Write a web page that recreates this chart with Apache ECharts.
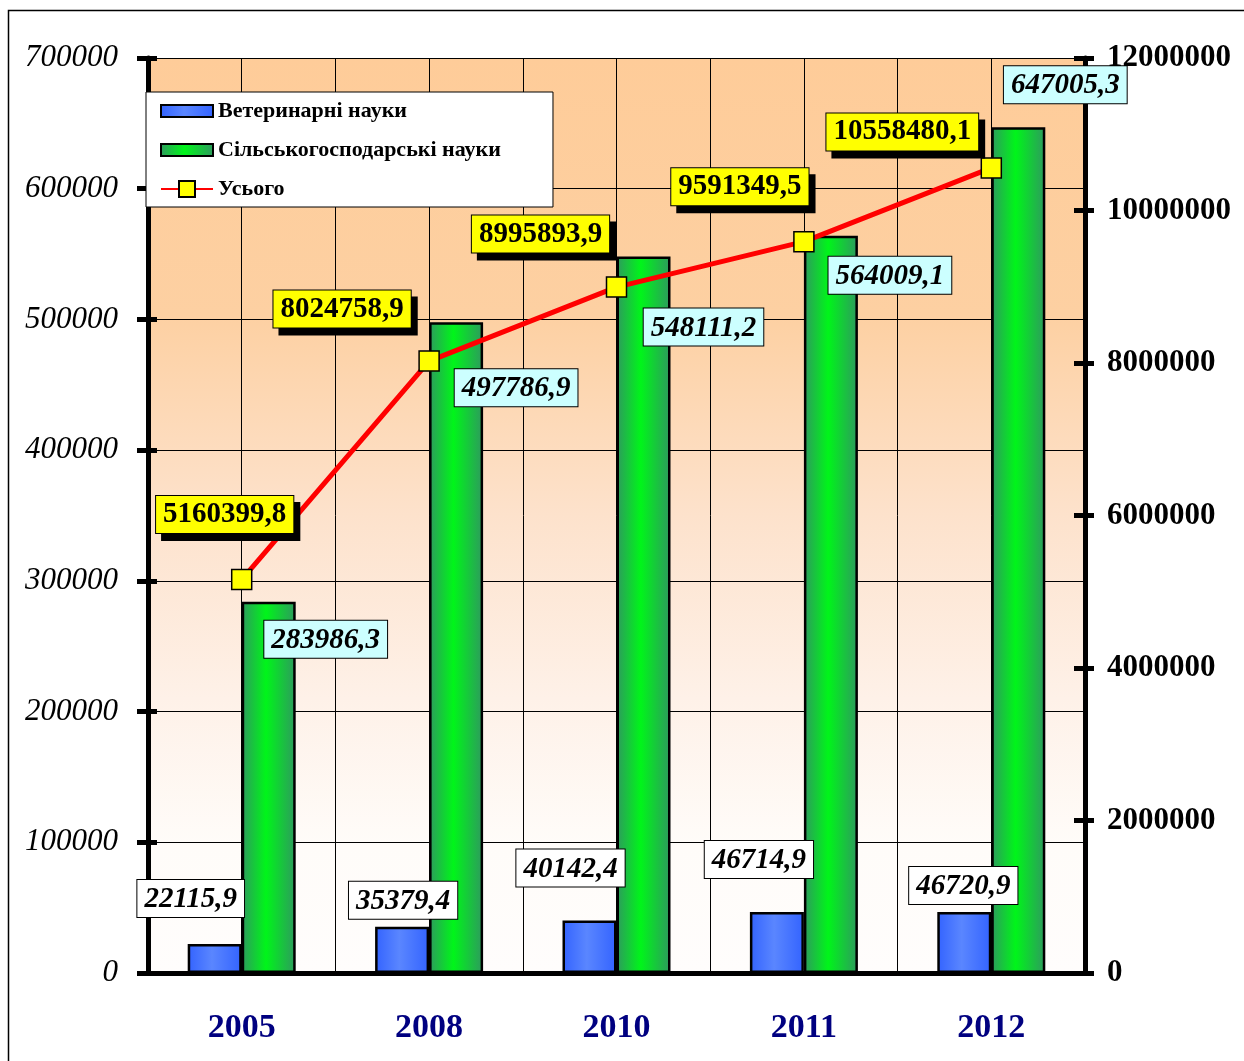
<!DOCTYPE html>
<html>
<head>
<meta charset="utf-8">
<script src="https://cdn.jsdelivr.net/npm/echarts@6/dist/echarts.min.js"></script>
<style>
  html, body { margin: 0; padding: 0; background: #fff; }
  #chart { width: 1244px; height: 1061px; }
</style>
</head>
<body>
<div id="chart"></div>
<script>
  // data
  const years = ['2005', '2008', '2010', '2011', '2012'];
  const vetValues = [22115.9, 35379.4, 40142.4, 46714.9, 46720.9];
  const agroValues = [283986.3, 497786.9, 548111.2, 564009.1, 647005.3];
  const totalValues = [5160399.8, 8024758.9, 8995893.9, 9591349.5, 10558480.1];
  const seriesNames = ['Ветеринарні науки', 'Сільськогосподарські науки', 'Усього'];

  // where each value label sits, relative to its mark
  const vetLabelShift = [[-24, -27], [1, -8], [-19, -34], [-18, -34], [-1, -8]];
  const agroLabelShift = [[57, 56], [60, 84], [60, 89], [59, 58], [47, -24]];
  const totalLabelShift = [[-17, -65], [-87, -52], [-76, -53], [-64, -55], [-89, -36]];

  const serif = '"Liberation Serif", "Times New Roman", serif';
  const fmt = v => v.toFixed(1).replace('.', ',');

  const chart = echarts.init(document.getElementById('chart'));

  const hGrad = (edge, mid, pos) => new echarts.graphic.LinearGradient(0, 0, 1, 0, [
    { offset: 0, color: edge },
    { offset: pos, color: mid },
    { offset: 1, color: edge }
  ]);

  const boxLabel = (bg, italic) => ({
    show: true,
    fontFamily: serif,
    fontSize: 29,
    fontWeight: 'bold',
    fontStyle: italic ? 'italic' : 'normal',
    color: '#000',
    backgroundColor: bg,
    borderColor: '#000',
    borderWidth: 1,
    padding: [5, 7, 3, 7],
    formatter: p => fmt(p.value)
  });

  const withShift = (values, shifts) => values.map((v, i) => ({ value: v, label: { offset: shifts[i] } }));

  const barIcon = 'path://M0,0L52,0L52,12L0,12Z';

  chart.setOption({
    animation: false,
    graphic: [{
      type: 'rect',
      shape: { x: 8.5, y: 10.5, width: 1250, height: 1070 },
      style: { fill: 'none', stroke: '#000', lineWidth: 1.5 },
      silent: true,
      z: -10
    }],
    grid: {
      left: 148, right: 159, top: 58, bottom: 88,
      show: true,
      borderWidth: 0,
      backgroundColor: new echarts.graphic.LinearGradient(0, 0, 0, 1, [
        { offset: 0, color: '#FECC99' },
        { offset: 0.28, color: '#FDD0A2' },
        { offset: 0.5, color: '#FDE2CC' },
        { offset: 0.7, color: '#FEF1E8' },
        { offset: 0.86, color: '#FFFCF9' },
        { offset: 1, color: '#FFFDFC' }
      ])
    },
    legend: {
      orient: 'vertical',
      left: 146,
      top: 92,
      backgroundColor: '#fff',
      borderColor: '#000',
      borderWidth: 1,
      padding: [8, 52, 7, 14],
      itemGap: 17,
      itemWidth: 52,
      itemHeight: 20,
      symbolKeepAspect: true,
      textStyle: { fontFamily: serif, fontSize: 22, fontWeight: 'bold', color: '#000' },
      data: [
        { name: seriesNames[0], icon: barIcon },
        { name: seriesNames[1], icon: barIcon },
        { name: seriesNames[2] }
      ]
    },
    xAxis: [
      {
        type: 'category',
        data: years,
        axisLine: { lineStyle: { color: '#000', width: 5 } },
        axisTick: { length: 10, lineStyle: { color: '#000', width: 5 } },
        axisLabel: { fontFamily: serif, fontSize: 34, fontWeight: 'bold', color: '#000080', margin: 38 },
        splitLine: { show: false }
      },
      {
        // half-category grid lines
        type: 'value',
        min: 0, max: 10, interval: 1,
        position: 'bottom',
        axisLine: { show: false },
        axisTick: { show: false },
        axisLabel: { show: false },
        splitLine: { show: true, lineStyle: { color: '#000', width: 1 } }
      }
    ],
    yAxis: [
      {
        type: 'value',
        min: 0, max: 700000, interval: 100000,
        position: 'left',
        axisLine: { show: true, lineStyle: { color: '#000', width: 5 } },
        axisTick: { show: true, length: 11, lineStyle: { color: '#000', width: 5 } },
        axisLabel: { fontFamily: serif, fontSize: 31, fontStyle: 'italic', color: '#000', margin: 30, formatter: v => String(v) },
        splitLine: { show: true, lineStyle: { color: '#000', width: 1 } }
      },
      {
        type: 'value',
        min: 0, max: 12000000, interval: 2000000,
        position: 'right',
        axisLine: { show: true, lineStyle: { color: '#000', width: 5 } },
        axisTick: { show: true, length: 9, lineStyle: { color: '#000', width: 5 } },
        axisLabel: { fontFamily: serif, fontSize: 31, fontWeight: 'bold', color: '#000', margin: 22, formatter: v => String(v) },
        splitLine: { show: false }
      },
      {
        type: 'value',
        min: 0, max: 700000, interval: 100000,
        position: 'left',
        axisLine: { show: false },
        axisTick: { show: true, inside: true, length: 9, lineStyle: { color: '#000', width: 5 } },
        axisLabel: { show: false },
        splitLine: { show: false }
      },
      {
        type: 'value',
        min: 0, max: 12000000, interval: 2000000,
        position: 'right',
        axisLine: { show: false },
        axisTick: { show: true, inside: true, length: 11, lineStyle: { color: '#000', width: 5 } },
        axisLabel: { show: false },
        splitLine: { show: false }
      }
    ],
    series: [
      {
        name: seriesNames[0],
        type: 'bar',
        barWidth: 54,
        barGap: '0%',
        itemStyle: { color: hGrad('#3363FF', '#5A86FF', 0.45), borderColor: '#000', borderWidth: 2.5 },
        label: Object.assign(boxLabel('#fff', true), { position: 'top', distance: 0 }),
        data: withShift(vetValues, vetLabelShift),
        z: 3
      },
      {
        name: seriesNames[1],
        type: 'bar',
        barWidth: 54,
        barGap: '0%',
        itemStyle: { color: hGrad('#2E9A5E', '#00F51A', 0.45), borderColor: '#000', borderWidth: 2.5 },
        label: Object.assign(boxLabel('#CCFFFF', true), { position: 'top', distance: 0 }),
        data: withShift(agroValues, agroLabelShift),
        z: 3
      },
      {
        name: seriesNames[2],
        type: 'line',
        yAxisIndex: 1,
        symbol: 'rect',
        symbolSize: 20,
        lineStyle: { color: '#FF0000', width: 5 },
        itemStyle: { color: '#FFFF00', borderColor: '#000', borderWidth: 1.5 },
        label: Object.assign(boxLabel('#FFFF00', false), {
          position: 'inside',
          shadowColor: '#000',
          shadowOffsetX: 6,
          shadowOffsetY: 7,
          shadowBlur: 0
        }),
        data: withShift(totalValues, totalLabelShift),
        z: 5
      }
    ]
  });
</script>
</body>
</html>
